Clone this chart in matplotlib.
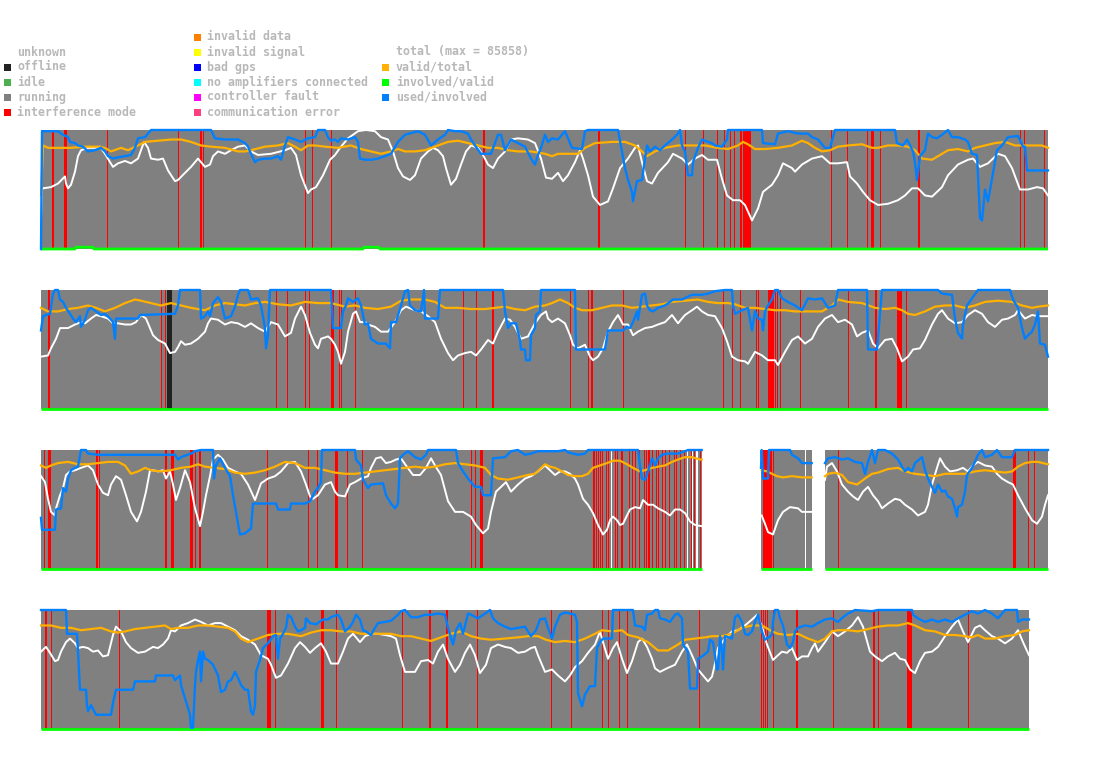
import numpy as np
import matplotlib
matplotlib.use('Agg')
import matplotlib.pyplot as plt
from matplotlib.patches import Rectangle

nan = float('nan')

# ---------------- data (time index 0..1007 per row, values in % of full scale) ----------------
# row 1
p1_total = [(0,24),(1,50),(2,51),(10,52),(17,55),(24,61),(25,55),(27,51),(30,54),(34,65),(37,78),(40,83),(47,85),(54,85),(59,86),(64,80),(69,73),(72,69),(77,72),(84,74),(90,72),(97,76),(103,90),(107,85),(110,76),(117,75),(122,76),(127,66),(134,57),(137,58),(144,64),(150,69),(157,76),(160,73),(164,69),(169,71),(172,78),(177,82),(184,80),(190,83),(197,86),(204,87),(210,82),(217,79),(230,80),(244,83),(250,85),(255,79),(260,62),(267,47),(270,50),(275,52),(282,62),(289,75),(294,79),(299,85),(307,93),(317,99),(325,100),(334,99),(340,94),(347,92),(352,82),(357,68),(362,61),(369,58),(374,62),(380,76),(387,82),(392,85),(397,83),(402,78),(405,68),(410,54),(415,59),(420,71),(425,82),(430,87),(437,85),(442,79),(447,71),(452,68),(457,76),(464,82),(470,92),(477,93),(487,92),(494,89),(500,76),(505,60),(511,59),(517,64),(522,57),(527,62),(534,73),(539,83),(542,76),(547,62),(552,44),(559,37),(567,40),(572,51),(579,68),(587,76),(594,85),(597,87),(601,73),(606,57),(611,55),(617,64),(627,73),(632,80),(641,76),(647,71),(654,76),(661,79),(667,75),(676,75),(681,59),(686,45),(692,41),(699,41),(704,37),(711,24),(717,34),(722,48),(731,54),(737,62),(742,72),(751,68),(754,65),(761,71),(771,76),(781,78),(789,72),(797,72),(806,73),(809,61),(816,55),(822,48),(829,41),(837,37),(847,38),(857,41),(864,45),(871,51),(877,51),(884,45),(891,44),(901,52),(907,62),(917,71),(927,75),(932,76),(939,69),(947,72),(957,80),(964,78),(971,68),(979,50),(987,50),(996,52),(1002,51),(1007,45)]
p1_valid = [(0,45),(2,87),(7,85),(17,85),(30,85),(44,86),(57,86),(64,85),(70,82),(80,85),(87,83),(97,87),(104,90),(117,91),(130,92),(140,92),(150,90),(160,87),(170,86),(184,85),(197,82),(204,82),(210,83),(224,86),(237,87),(247,89),(254,86),(260,83),(267,87),(274,87),(284,86),(297,85),(310,87),(320,84),(330,82),(340,80),(350,82),(357,84),(364,82),(374,82),(384,83),(397,87),(407,90),(417,91),(427,89),(437,87),(447,85),(457,85),(467,83),(477,82),(490,82),(504,80),(511,78),(517,80),(527,80),(537,80),(544,85),(554,89),(571,90),(584,90),(594,87),(601,82),(606,78),(614,82),(624,85),(637,87),(651,87),(664,87),(677,85),(687,84),(697,87),(702,90),(707,88),(714,84),(724,84),(737,85),(751,87),(761,91),(767,89),(774,85),(781,82),(789,83),(797,86),(807,87),(821,88),(831,85),(837,85),(847,87),(857,87),(867,86),(874,83),(881,76),(891,75),(901,80),(907,83),(917,84),(927,82),(934,85),(944,87),(954,89),(964,90),(974,87),(984,87),(994,87),(1001,87),(1007,85)]
p1_used = [(0,0),(1,99),(4,99),(17,99),(22,96),(27,94),(29,90),(34,89),(37,87),(42,86),(47,82),(54,83),(60,85),(64,82),(67,78),(72,76),(77,77),(84,78),(90,79),(94,85),(97,93),(104,94),(110,100),(170,100),(174,93),(184,92),(197,92),(204,89),(207,86),(210,80),(214,73),(217,75),(224,76),(230,76),(237,78),(240,75),(244,87),(247,94),(254,92),(260,90),(267,93),(274,94),(277,100),(284,100),(287,94),(290,91),(294,92),(297,90),(300,93),(307,92),(314,94),(317,90),(319,76),(324,75),(330,75),(337,76),(344,78),(350,80),(357,90),(364,96),(377,99),(384,96),(390,87),(397,92),(404,96),(407,100),(414,99),(420,99),(427,97),(430,92),(434,87),(440,80),(450,80),(457,96),(460,96),(464,83),(470,92),(477,89),(484,86),(490,76),(494,71),(497,79),(500,85),(504,96),(507,90),(511,93),(517,92),(524,99),(527,93),(531,85),(541,84),(544,99),(547,100),(577,100),(581,82),(584,68),(587,58),(591,48),(592,40),(596,57),(601,58),(604,76),(606,87),(609,82),(614,86),(619,83),(624,87),(631,92),(636,96),(639,100),(641,87),(644,82),(647,62),(651,62),(652,73),(657,85),(661,92),(667,90),(671,89),(674,87),(681,86),(686,92),(687,100),(721,100),(722,89),(734,88),(737,97),(747,99),(757,97),(767,97),(771,94),(777,92),(784,85),(789,85),(794,100),(854,100),(856,89),(862,87),(866,92),(869,87),(872,82),(874,73),(876,58),(879,78),(884,83),(887,97),(891,94),(896,93),(901,96),(907,100),(911,94),(917,94),(924,92),(927,90),(931,80),(936,79),(939,26),(941,24),(944,50),(947,40),(951,59),(956,83),(961,87),(967,94),(977,95),(982,86),(984,86),(986,66),(1007,66)]
p1_involved = [(0,0),(34,0),(35,1.5),(52,1.5),(53,0),(322,0),(323,1.5),(338,1.5),(339,0),(1007,0)]
p1_running = [(0,1007)]
p1_interference = [(10.7,1),(12.3,1),(23.3,3),(66.3,1),(137.3,1),(159,2),(162.3,1),(264.3,1),(271.3,1),(290.3,1),(442,2),(557.3,2),(644,1),(662,1),(676,1),(683,1),(689.3,1),(692.7,1),(699,2),(701.5,8.5),(790,1),(806,1),(826.3,1),(830,2.7),(839,1),(877.3,1.4),(979,1),(983,1),(1003,1)]
p1_offline = []
p1_unknown = []

# row 2
p2_total = [(0,44),(7,45),(10,51),(15,59),(19,68),(27,68),(34,71),(40,73),(44,72),(50,76),(55,79),(60,78),(67,76),(72,72),(77,72),(84,71),(90,71),(95,73),(100,79),(105,76),(112,62),(117,58),(124,55),(129,47),(134,48),(137,52),(140,57),(144,54),(150,55),(157,59),(164,65),(167,72),(170,76),(177,75),(184,71),(190,73),(197,72),(204,69),(210,72),(217,68),(224,65),(230,73),(237,71),(244,61),(250,64),(254,76),(260,86),(264,79),(269,64),(274,54),(277,51),(280,59),(287,61),(290,59),(294,54),(297,48),(300,38),(304,48),(307,65),(312,80),(315,82),(319,73),(324,73),(327,71),(334,69),(340,65),(347,65),(354,73),(360,83),(365,86),(374,83),(380,82),(387,78),(394,73),(400,59),(407,47),(412,41),(417,45),(424,47),(430,48),(435,45),(440,50),(447,58),(452,55),(457,65),(464,76),(469,75),(474,69),(480,59),(487,61),(494,72),(500,79),(505,82),(507,76),(511,73),(517,76),(524,72),(529,62),(532,54),(537,51),(544,54),(549,44),(552,41),(557,44),(562,51),(567,65),(572,73),(577,79),(582,71),(587,71),(592,62),(597,65),(604,68),(611,69),(617,71),(624,73),(631,79),(637,72),(644,79),(651,83),(656,86),(661,82),(667,79),(674,78),(681,68),(686,57),(691,44),(697,41),(704,40),(707,38),(714,48),(721,45),(727,41),(734,41),(737,37),(744,48),(751,58),(757,61),(764,55),(771,59),(777,69),(784,76),(791,79),(797,73),(804,75),(811,71),(816,61),(821,64),(827,66),(832,55),(837,51),(844,58),(851,59),(856,51),(861,40),(867,44),(872,50),(879,51),(884,58),(891,71),(897,80),(901,83),(907,76),(914,72),(921,73),(927,79),(934,83),(941,80),(947,73),(954,69),(961,75),(967,76),(974,79),(977,83),(984,76),(991,79),(997,78),(1007,78)]
p2_valid = [(0,85),(7,82),(17,82),(27,84),(37,85),(47,87),(55,85),(64,82),(74,85),(84,89),(94,92),(100,91),(110,89),(120,87),(130,89),(140,87),(150,85),(164,83),(174,87),(184,89),(194,88),(204,87),(214,89),(224,90),(237,88),(250,87),(264,90),(277,89),(290,89),(304,86),(314,87),(324,85),(337,84),(350,86),(360,91),(370,92),(384,92),(394,90),(404,85),(417,85),(430,84),(444,84),(454,85),(464,86),(474,84),(484,83),(494,86),(504,87),(511,89),(519,92),(527,89),(534,85),(541,83),(551,83),(561,85),(571,87),(581,87),(591,85),(601,86),(611,87),(621,88),(631,90),(644,91),(657,92),(667,90),(677,89),(687,89),(694,88),(704,85),(714,85),(724,84),(734,83),(744,83),(754,82),(767,82),(781,82),(791,87),(797,92),(807,90),(821,89),(834,85),(844,84),(854,85),(861,83),(867,80),(874,79),(884,82),(894,86),(904,87),(914,87),(924,85),(934,87),(944,90),(957,91),(971,90),(981,87),(991,85),(997,86),(1007,87)]
p2_used = [(0,66),(2,78),(5,79),(9,80),(12,97),(14,100),(17,100),(19,92),(22,90),(25,85),(29,80),(32,76),(35,73),(39,78),(40,69),(44,75),(47,83),(50,85),(55,82),(60,79),(64,80),(69,76),(72,73),(74,59),(75,76),(97,76),(99,79),(134,80),(137,87),(139,100),(159,100),(160,76),(164,78),(167,82),(169,78),(172,89),(177,94),(180,90),(184,76),(190,78),(194,86),(197,96),(199,100),(207,100),(210,92),(217,93),(220,87),(224,68),(225,51),(227,62),(229,100),(290,100),(292,68),(300,68),(302,82),(305,87),(307,93),(312,90),(317,93),(320,87),(324,71),(327,72),(330,59),(337,55),(345,55),(349,51),(350,73),(355,73),(360,87),(364,99),(367,100),(369,87),(374,83),(380,82),(383,100),(384,76),(397,76),(399,100),(462,100),(464,82),(467,68),(470,72),(475,72),(479,58),(480,50),(484,50),(485,41),(489,41),(490,62),(494,68),(495,79),(499,82),(500,100),(534,100),(535,50),(564,50),(567,66),(582,66),(586,69),(589,68),(592,73),(596,82),(597,75),(601,96),(604,97),(606,87),(609,83),(612,82),(617,85),(624,87),(629,90),(632,92),(641,92),(651,96),(661,96),(667,97),(674,99),(684,100),(691,100),(692,87),(694,80),(701,83),(707,85),(711,66),(714,82),(717,76),(721,75),(722,66),(724,82),(727,87),(731,92),(734,100),(737,100),(741,93),(747,90),(754,87),(761,83),(767,93),(774,92),(781,93),(787,85),(794,87),(797,100),(826,100),(827,50),(836,50),(841,100),(897,100),(901,97),(911,96),(914,76),(917,64),(921,59),(922,71),(926,87),(931,93),(937,100),(969,100),(972,92),(977,85),(981,68),(984,59),(987,62),(991,65),(994,71),(997,82),(999,55),(1004,54),(1007,44)]
p2_involved = [(0,0),(1007,0)]
p2_running = [(0,1007)]
p2_interference = [(7,1.7),(120.3,1),(124.3,1),(235,1),(246.3,1),(264.3,1),(268.3,1),(290.3,2.4),(298.3,1),(300.3,1),(314.3,1),(422.3,1),(435,1),(451,2.3),(529.3,1),(547.3,1),(550,1.7),(582.3,1),(682.3,1),(691.3,1),(699.3,1),(714.7,1),(717.3,1),(727.3,1.5),(729.3,1.5),(731.3,1.5),(734,1),(736,1),(738.7,1),(759.3,1),(807.3,1),(834,1.7),(856.3,4.4),(865,1)]
p2_offline = [(126.3,4.7)]
p2_unknown = []

# row 3 (two data gaps)
p3_total = [(0,78),(4,73),(7,59),(10,48),(14,45),(15,51),(19,62),(22,68),(25,79),(29,82),(34,83),(40,85),(47,87),(52,83),(57,71),(62,64),(67,62),(70,71),(75,78),(80,75),(85,62),(90,48),(96,40),(100,48),(105,65),(109,83),(112,83),(117,82),(122,83),(125,76),(129,82),(132,71),(135,58),(139,68),(144,83),(149,73),(154,51),(159,36),(162,48),(165,62),(169,78),(172,92),(177,96),(182,92),(187,85),(194,82),(200,80),(207,71),(214,58),(217,65),(220,72),(227,76),(234,78),(240,82),(247,89),(254,90),(260,82),(265,71),(269,61),(272,59),(277,62),(284,71),(290,73),(294,65),(297,62),(304,61),(309,71),(314,73),(320,76),(327,78),(330,85),(335,93),(340,94),(345,89),(350,90),(355,92),(360,93),(365,87),(372,79),(379,79),(385,85),(390,93),(394,87),(400,79),(407,57),(414,48),(422,48),(430,44),(435,37),(442,30),(447,34),(450,48),(455,65),(460,69),(465,73),(470,65),(477,71),(484,76),(490,78),(497,82),(504,87),(509,83),(514,79),(519,82),(524,82),(529,80),(534,76),(537,71),(542,59),(547,54),(552,47),(557,37),(562,29),(566,33),(569,41),(572,44),(576,41),(579,37),(582,38),(586,45),(589,50),(594,52),(599,51),(602,58),(607,54),(612,54),(617,51),(624,48),(629,45),(634,50),(639,50),(644,47),(649,40),(654,37),(660.7,36),(661,nan),(720.7,45),(724,38),(727,31),(732,29),(737,41),(742,48),(749,52),(757,51),(761,48),(770.7,48),(771,nan),(784,75),(786,86),(791,89),(796,82),(801,71),(807,65),(812,61),(817,58),(822,65),(827,69),(832,62),(837,57),(841,51),(847,55),(854,59),(859,58),(864,54),(871,50),(877,45),(884,48),(887,54),(891,71),(896,85),(899,93),(904,86),(909,82),(916,83),(922,85),(927,82),(932,87),(937,90),(944,87),(951,86),(956,80),(961,76),(967,73),(972,71),(977,62),(984,51),(991,41),(996,38),(1001,44),(1004,54),(1007,62)]
p3_valid = [(0,87),(5,85),(10,87),(17,89),(27,90),(37,88),(47,88),(57,89),(67,90),(77,90),(84,87),(90,80),(97,82),(104,85),(110,83),(120,82),(130,83),(140,85),(150,86),(157,88),(164,86),(174,85),(184,84),(194,81),(204,80),(214,81),(224,83),(234,86),(244,90),(254,89),(264,85),(274,85),(284,83),(294,81),(304,80),(314,80),(324,81),(334,82),(344,83),(354,84),(364,85),(374,86),(384,85),(394,86),(404,88),(414,89),(424,88),(434,87),(444,85),(450,79),(457,76),(467,75),(477,77),(487,79),(494,80),(504,88),(509,86),(514,85),(521,82),(527,79),(534,78),(541,78),(547,80),(552,85),(559,87),(566,89),(572,91),(579,91),(586,88),(592,85),(599,82),(604,83),(611,85),(617,86),(624,87),(631,90),(637,92),(644,94),(651,94),(659,92),(660.7,92),(661,nan),(720.7,83),(726,82),(731,80),(736,78),(742,77),(751,78),(761,77),(770.7,77),(771,nan),(784,78),(787,80),(794,81),(801,79),(807,73),(816,71),(824,76),(831,80),(837,81),(847,84),(857,85),(864,82),(874,80),(884,79),(894,78),(904,80),(914,80),(924,80),(934,82),(944,83),(954,82),(964,81),(971,82),(977,86),(984,89),(991,90),(997,90),(1007,88)]
p3_used = [(0,43),(1,33),(14,33),(15,50),(20,51),(22,68),(25,65),(27,76),(30,83),(34,85),(37,86),(40,100),(45,100),(47,97),(57,96),(74,96),(134,96),(137,92),(140,94),(150,97),(154,99),(160,100),(172,100),(173,76),(175,87),(179,93),(184,85),(189,78),(192,62),(195,48),(199,29),(204,30),(210,34),(212,55),(235,55),(237,50),(249,50),(250,55),(264,55),(269,57),(274,65),(277,68),(280,73),(281,100),(314,100),(315,92),(320,87),(322,75),(327,68),(330,71),(342,72),(345,62),(350,55),(354,51),(357,55),(359,93),(362,96),(367,99),(374,94),(380,92),(385,96),(387,100),(415,100),(417,89),(422,82),(427,76),(434,69),(440,69),(442,62),(450,62),(452,93),(464,94),(470,99),(477,100),(484,96),(490,97),(497,99),(504,99),(517,99),(524,100),(527,98),(537,96),(544,97),(547,100),(597,100),(599,87),(601,76),(604,75),(607,82),(611,93),(614,87),(617,93),(621,96),(627,97),(637,97),(644,99),(647,100),(660.7,100),(661,nan),(720,85),(720.7,100),(722,76),(727,76),(728,100),(749,100),(751,96),(757,93),(761,89),(770.7,89),(771,nan),(784,89),(787,93),(794,94),(801,92),(807,93),(814,90),(821,89),(824,80),(827,90),(831,100),(834,89),(837,100),(844,100),(851,97),(857,92),(861,86),(864,82),(867,85),(871,82),(874,89),(881,94),(884,83),(887,76),(891,69),(894,64),(897,71),(901,65),(904,66),(907,61),(911,59),(914,51),(916,44),(917,52),(921,54),(924,65),(926,79),(931,85),(934,90),(937,96),(941,100),(944,94),(951,96),(956,100),(961,94),(971,94),(974,100),(1007,100)]
p3_involved = [(0,0),(660.7,0),(661,nan),(720,0),(770.7,0),(771,nan),(784,0),(1007,0)]
p3_running = [(0,660.7),(720,770.7),(784,1007)]
p3_interference = [(3,1.3),(7,2.7),(55.3,1.7),(58.3,1),(124.3,1.4),(130.3,2.4),(148.7,3.6),(153.7,1.3),(158.3,1.4),(226.3,1),(267,1),(276.3,1),(294.3,2.4),(306.3,1),(321,1),(430.3,1),(433.7,1),(438.7,3),(551.7,1),(553.3,1),(555,1),(557.3,1),(559,1),(561.3,1),(565,1),(566.7,1.6),(574,1),(575.7,1),(580,1.7),(588,1),(591.3,1),(594,1),(598,1),(603,1),(605,1),(607.3,1),(608.3,1),(610.7,1),(615,1),(617.3,1),(620.7,1),(624,1),(628,1),(633.3,1),(634.7,1),(639,1),(643.3,1),(649.7,1),(653.3,1),(659,1),(722.3,8.4),(731.7,1),(797.3,1),(972.3,2.4),(987.3,1),(993.3,1)]
p3_offline = []
p3_unknown = [(570.3,1),(646.3,1),(650.7,1),(654.7,2),(764,1)]

# row 4
p4_total = [(0,65),(5,69),(9,64),(14,57),(17,58),(20,65),(25,73),(29,76),(34,72),(37,68),(42,69),(47,68),(52,65),(57,66),(62,61),(67,62),(72,79),(75,86),(80,82),(85,73),(90,68),(97,64),(104,65),(112,69),(117,68),(122,71),(127,76),(130,83),(134,82),(140,87),(147,89),(154,92),(160,90),(167,87),(174,89),(180,89),(187,86),(194,83),(200,78),(207,75),(214,71),(220,62),(227,59),(230,54),(235,43),(240,45),(247,55),(254,68),(259,73),(264,69),(269,64),(274,68),(280,72),(285,65),(290,55),(297,55),(302,65),(307,76),(312,80),(319,73),(324,78),(330,80),(337,80),(344,79),(350,78),(355,76),(359,62),(364,48),(374,48),(380,57),(387,58),(392,55),(397,65),(402,71),(407,59),(414,48),(419,54),(424,64),(429,71),(434,62),(439,47),(445,54),(450,68),(457,71),(464,69),(470,68),(477,64),(484,65),(490,68),(494,69),(497,62),(504,48),(511,50),(517,45),(524,40),(529,45),(534,52),(541,57),(547,64),(554,71),(559,82),(562,73),(567,59),(572,68),(576,73),(581,59),(586,47),(591,57),(597,73),(601,76),(606,69),(611,59),(614,51),(619,48),(626,51),(634,54),(641,65),(646,71),(651,62),(657,50),(662,45),(667,40),(671,44),(674,55),(677,68),(684,76),(691,82),(697,83),(704,87),(711,92),(716,96),(721,86),(726,71),(732,58),(737,62),(741,65),(746,64),(751,68),(756,58),(761,61),(767,61),(771,68),(774,72),(777,65),(784,73),(791,82),(797,78),(804,82),(811,87),(817,94),(822,86),(829,65),(834,61),(841,57),(847,61),(854,64),(859,59),(864,58),(869,50),(874,47),(879,57),(884,64),(891,65),(897,69),(904,78),(911,86),(917,92),(922,82),(927,73),(934,85),(939,87),(944,83),(951,78),(957,76),(964,72),(971,76),(977,83),(982,73),(988,62)]
p4_valid = [(0,87),(10,87),(20,85),(30,85),(40,83),(50,84),(60,85),(70,82),(77,81),(84,82),(94,84),(104,85),(114,86),(124,87),(130,84),(137,85),(147,85),(157,87),(167,87),(177,86),(187,85),(194,82),(200,76),(207,73),(217,76),(227,79),(237,80),(247,80),(260,78),(270,81),(280,83),(290,83),(300,82),(310,82),(320,80),(330,80),(340,80),(350,80),(360,78),(370,78),(380,76),(390,74),(400,77),(410,80),(420,82),(430,78),(440,76),(450,75),(464,76),(477,77),(487,78),(497,78),(505,75),(514,73),(524,74),(534,73),(544,76),(554,80),(561,83),(571,82),(581,83),(587,79),(597,77),(607,73),(617,66),(627,66),(637,71),(644,75),(654,76),(664,77),(671,78),(681,78),(691,80),(701,85),(711,87),(721,87),(731,82),(737,80),(747,79),(757,80),(767,76),(777,73),(784,76),(791,82),(797,83),(807,83),(817,82),(827,84),(837,86),(847,87),(857,87),(867,89),(874,87),(884,83),(894,82),(904,79),(914,79),(924,78),(931,77),(937,79),(944,76),(954,76),(964,78),(974,79),(981,82),(988,83)]
p4_used = [(0,100),(25,100),(26,80),(36,80),(37,65),(39,33),(45,33),(46,20),(47,15),(50,20),(55,12),(70,12),(72,22),(75,33),(92,33),(94,40),(114,40),(115,45),(132,45),(134,41),(139,45),(140,37),(149,12),(150,1),(152,1),(154,37),(155,48),(157,58),(159,65),(160,40),(162,65),(164,59),(167,58),(172,54),(177,45),(180,31),(184,33),(187,40),(190,41),(194,48),(197,43),(200,37),(204,33),(207,33),(210,15),(212,12),(214,20),(215,48),(219,58),(222,68),(227,72),(232,78),(235,79),(237,59),(239,76),(242,80),(245,85),(247,96),(250,94),(254,86),(257,82),(260,83),(264,85),(265,93),(269,89),(275,88),(282,92),(287,92),(290,94),(297,96),(300,92),(304,82),(309,86),(312,90),(315,96),(319,92),(322,83),(325,82),(330,79),(334,85),(337,89),(344,90),(350,91),(357,96),(360,99),(364,100),(370,94),(377,94),(384,96),(390,96),(397,97),(404,96),(407,85),(412,71),(415,83),(419,89),(422,80),(427,97),(430,96),(437,93),(444,97),(449,100),(452,93),(457,89),(464,86),(470,84),(477,85),(484,86),(490,78),(495,83),(499,92),(504,93),(507,85),(511,76),(514,86),(519,96),(524,98),(534,96),(536,90),(537,30),(541,19),(544,29),(549,36),(554,36),(556,68),(559,73),(562,76),(571,76),(572,100),(592,100),(594,87),(601,86),(604,83),(606,96),(611,97),(614,100),(617,100),(619,93),(624,92),(629,90),(634,96),(637,97),(641,93),(642,71),(647,65),(649,34),(656,34),(657,59),(661,61),(667,65),(669,75),(672,73),(676,50),(677,50),(679,78),(681,65),(682,50),(684,78),(691,76),(694,94),(697,96),(701,90),(704,80),(707,79),(711,82),(714,90),(717,96),(721,82),(724,75),(731,79),(732,90),(734,100),(737,100),(739,93),(742,87),(746,71),(749,68),(752,73),(754,82),(757,85),(764,87),(771,86),(777,89),(784,92),(791,93),(797,90),(802,94),(807,97),(814,100),(831,99),(837,100),(871,100),(872,96),(877,93),(884,90),(891,92),(897,90),(904,92),(911,90),(917,93),(924,96),(931,99),(937,97),(944,100),(951,97),(957,93),(964,100),(976,100),(977,90),(981,92),(988,92)]
p4_involved = [(0,0),(988,0)]
p4_running = [(0,988)]
p4_interference = [(4.3,2),(10.3,1),(78.3,1),(226.3,3.4),(234.3,1),(279.7,1),(281,1.7),(295.3,1),(361.3,1),(388,1.7),(405.3,1.4),(436.3,1),(510,1),(530,1),(561.3,1),(567.3,1),(578,1),(585.7,1.3),(658,1),(720,1),(722,1),(724,1),(726,1),(732,1),(754.7,2),(792.3,1),(832.3,1.7),(837.3,1),(866.3,4.4),(927.3,1)]
p4_offline = []
p4_unknown = []

rows = [
    (p1_total, p1_valid, p1_involved, p1_used, p1_running, p1_interference, p1_offline, p1_unknown),
    (p2_total, p2_valid, p2_involved, p2_used, p2_running, p2_interference, p2_offline, p2_unknown),
    (p3_total, p3_valid, p3_involved, p3_used, p3_running, p3_interference, p3_offline, p3_unknown),
    (p4_total, p4_valid, p4_involved, p4_used, p4_running, p4_interference, p4_offline, p4_unknown),
]

legend_col1 = ["unknown", "offline", "idle", "running", "interference mode"]
legend_col1_colors = [None, '#222222', '#4caf50', '#808080', '#ff0000']
legend_col2 = ["invalid data", "invalid signal", "bad gps", "no amplifiers connected",
               "controller fault", "communication error"]
legend_col2_colors = ['#ff8000', '#ffff00', '#0000ff', '#00ffff', '#ff00ff', '#ff4080']
legend_col3 = ["total (max = 85858)", "valid/total", "involved/valid", "used/involved"]
legend_col3_colors = [None, '#ffb000', '#00ff00', '#0080ff']

# ---------------- drawing ----------------
W, H = 1095, 764
fig = plt.figure(figsize=(W / 100, H / 100), dpi=100)
fig.patch.set_facecolor('white')

X0, X1 = 41, 1048
PANEL_H = 119
tops = [130, 290, 450, 610]
T_END = 1007

C_RUN, C_RED, C_OFF, C_UNK = '#808080', '#ff0000', '#222222', '#ffffff'


def xy(pairs):
    a = np.array(pairs, dtype=float)
    return a[:, 0], a[:, 1]


for top, (tot, val, inv, used, run, red, off, unk) in zip(tops, rows):
    ax = fig.add_axes([X0 / W, 1 - (top + PANEL_H) / H, (X1 - X0) / W, PANEL_H / H])
    ax.set_xlim(0, T_END)
    ax.set_ylim(0, 100)
    ax.axis('off')
    for s, e in run:
        ax.axvspan(s, e, color=C_RUN, lw=0, antialiased=False, zorder=1)
    for s, w in off:
        ax.axvspan(s, s + w, color=C_OFF, lw=0, antialiased=False, zorder=2)
    for s, w in red:
        ax.axvspan(s, s + w, color=C_RED, lw=0, antialiased=False, zorder=2)
    for s, w in unk:
        ax.axvspan(s, s + w, color=C_UNK, lw=0, antialiased=False, zorder=2)
    t, v = xy(tot)
    ax.plot(t, v, color='white', lw=1.4, zorder=3, clip_on=False)
    t, v = xy(val)
    ax.plot(t, v, color='#ffb000', lw=1.6, zorder=4, clip_on=False)
    t, v = xy(inv)
    ax.plot(t, v, color='#00ff00', lw=2.0, zorder=4, clip_on=False, solid_capstyle='butt')
    t, v = xy(used)
    ax.plot(t, v, color='#0080ff', lw=1.7, zorder=5, clip_on=False)

# legend
TXT = dict(family='DejaVu Sans Mono', weight='bold', size=8.4, color='#b8b8b8',
           va='center', ha='left')
row_y = [37, 52, 67, 82, 97, 112]


def legend_column(labels, colors, first_row, mx, tx):
    for i, (lab, c) in enumerate(zip(labels, colors)):
        y = row_y[first_row + i]
        if c is not None:
            fig.add_artist(Rectangle((mx / W, 1 - (y + 3.5) / H), 7 / W, 7 / H,
                                     transform=fig.transFigure, color=c, lw=0))
        fig.text(tx / W, 1 - y / H, lab, **TXT)


legend_column(legend_col1, legend_col1_colors, 1, 4, 17)
legend_column(legend_col2, legend_col2_colors, 0, 194, 207)
legend_column(legend_col3, legend_col3_colors, 1, 382, 396)

fig.savefig('out.png', dpi=100, facecolor='white')
